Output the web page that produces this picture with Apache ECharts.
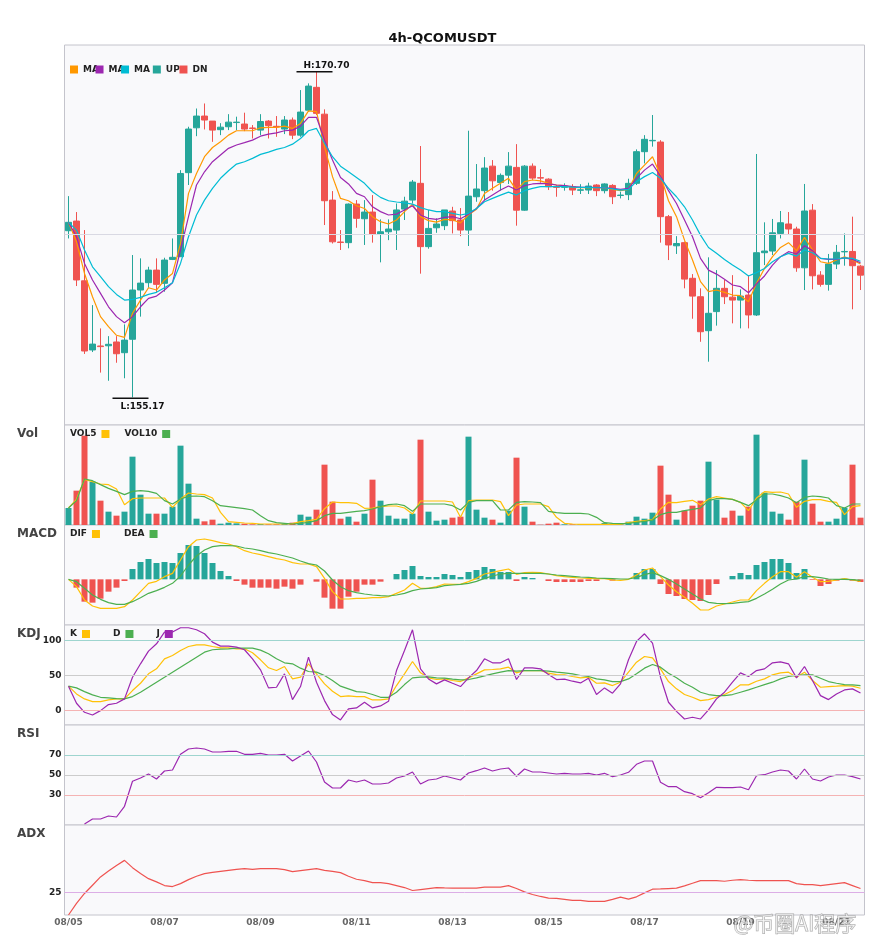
<!DOCTYPE html>
<html><head><meta charset="utf-8">
<script src="https://cdn.jsdelivr.net/npm/echarts@6/dist/echarts.min.js"></script>
<style>html,body{margin:0;padding:0;background:#fff}#c{width:885px;height:950px}</style>
</head><body><div id="c"></div>
<script>
// ---- categories: 4h candles from 08/05 00:00 ----
const categories = [];
for (let i = 0; i < 100; i++) {
  const d = 5 + Math.floor(i / 6), h = (i % 6) * 4;
  categories.push('08/' + String(d).padStart(2, '0') + ' ' + String(h).padStart(2, '0') + ':00');
}
const opens = [163.12,163.58,160.73,157.43,157.62,157.63,157.81,157.30,157.94,160.29,
160.64,161.24,160.61,161.75,161.88,165.89,168.03,168.59,168.35,167.94,
168.08,168.28,168.21,168.02,167.92,168.35,168.10,167.97,168.40,167.68,
168.87,169.96,168.68,164.58,162.58,162.55,164.39,163.69,164.01,162.96,
163.07,163.15,164.15,164.58,165.38,162.36,163.26,163.36,164.06,163.63,
163.15,164.74,165.03,166.20,165.42,165.77,166.14,164.10,166.20,165.65,
165.58,165.21,165.19,165.22,165.05,165.06,165.30,165.03,165.28,164.80,
164.84,165.38,166.89,167.41,167.35,163.79,162.40,162.55,160.85,159.97,
158.35,159.26,160.37,159.95,159.81,160.05,159.10,162.07,162.15,162.99,
163.44,163.20,161.35,164.10,161.00,160.56,161.53,162.11,162.13,161.43];
const closes = [163.52,160.77,157.38,157.71,157.59,157.70,157.25,157.90,160.29,160.62,
161.24,160.56,161.72,161.85,165.85,167.97,168.59,168.40,167.92,168.06,
168.30,168.30,167.97,168.00,168.33,168.13,168.07,168.40,167.68,168.78,
170.02,168.72,164.55,162.59,162.56,164.39,163.71,164.01,162.94,163.07,
163.20,164.11,164.53,165.44,162.36,163.23,163.44,164.11,163.60,163.15,
164.77,165.11,166.11,165.50,165.76,166.20,164.10,166.20,165.63,165.63,
165.22,165.19,165.25,165.06,165.07,165.25,165.03,165.35,164.74,164.82,
165.38,166.89,167.48,167.43,163.79,162.44,162.51,160.81,160.00,158.30,
159.18,160.37,159.97,159.81,160.00,159.10,162.07,162.15,163.02,163.50,
163.20,161.35,164.06,160.97,160.56,161.53,162.09,162.13,161.45,161.00];
const lows = [162.75,160.48,157.24,157.33,156.35,155.96,156.82,156.08,155.17,159.02,
160.40,160.18,160.21,161.72,161.88,165.30,167.63,167.95,167.36,167.68,
167.92,167.92,167.87,167.52,167.68,167.52,167.60,167.73,167.49,167.60,
168.79,168.64,163.39,162.51,162.20,162.28,163.26,162.44,162.55,161.61,
162.67,162.20,163.63,164.42,161.07,162.26,163.02,163.15,162.99,162.86,
162.39,164.50,164.58,165.03,165.03,165.35,163.36,164.07,165.54,165.41,
165.06,164.74,165.03,164.82,164.87,164.87,164.77,164.90,164.39,164.66,
164.58,165.30,166.33,167.13,162.55,161.72,162.01,160.37,158.92,157.82,
156.87,158.59,159.62,158.70,158.46,158.46,159.05,161.48,161.96,162.75,
162.96,161.16,160.29,160.32,160.45,160.26,161.29,161.45,159.37,160.29];
const highs = [164.77,164.01,163.15,159.57,158.46,158.09,158.09,158.65,161.96,161.80,
161.40,161.80,161.83,162.75,166.01,168.08,168.95,169.19,168.35,168.25,
168.68,168.56,168.75,168.16,168.68,168.40,168.59,168.59,168.52,169.83,
170.15,170.70,168.91,165.01,163.15,164.42,164.58,164.58,164.82,163.66,
163.66,164.42,164.74,165.54,167.16,164.11,163.71,164.11,164.26,164.20,
167.89,166.30,166.63,166.49,165.85,166.87,167.25,166.25,166.33,166.06,
165.62,165.30,165.38,165.34,165.34,165.41,165.34,165.38,165.34,164.98,
165.60,167.00,167.68,168.64,167.44,163.87,162.86,162.60,161.05,160.37,
161.85,161.24,160.77,161.00,160.32,161.00,166.78,163.52,163.68,164.06,
164.01,163.31,165.35,164.39,161.19,162.01,162.44,162.99,163.79,161.48];
const ma5 = [163.52,162.59,161.08,159.97,159.02,158.54,158.13,158.03,159.18,159.81,
160.40,160.29,160.77,161.08,162.50,164.90,165.85,166.65,167.09,167.36,
167.68,167.89,167.89,167.89,168.03,168.05,168.05,168.11,168.00,168.24,
168.84,168.80,167.13,165.70,164.66,164.55,164.31,164.18,163.79,163.55,
163.44,163.63,164.03,164.38,163.79,163.60,163.53,163.66,163.64,163.49,
163.88,164.14,164.90,165.14,165.38,165.62,165.06,165.46,165.54,165.50,
165.38,165.30,165.27,165.19,165.17,165.17,165.19,165.17,165.09,165.03,
165.09,165.85,166.25,166.65,165.77,164.55,163.79,162.67,161.72,160.69,
160.21,160.29,160.18,160.05,160.02,159.73,160.61,161.32,161.88,162.32,
162.55,162.17,162.80,162.20,161.64,161.56,161.72,161.88,161.72,161.53];
const ma10 = [163.52,162.83,161.56,160.77,160.13,159.49,159.02,158.73,159.02,159.49,
159.89,160.00,160.29,160.64,162.20,163.79,165.30,165.93,166.41,166.73,
167.05,167.21,167.32,167.44,167.63,167.73,167.79,167.89,167.92,168.11,
168.53,168.53,167.44,166.49,165.66,165.35,164.90,164.74,164.26,164.03,
163.87,163.91,164.11,164.31,163.87,163.71,163.66,163.76,163.79,163.69,
163.91,164.18,164.58,164.82,165.06,165.25,165.06,165.27,165.35,165.38,
165.35,165.30,165.27,165.22,165.20,165.19,165.19,165.17,165.14,165.09,
165.14,165.62,166.01,166.30,165.73,165.03,164.42,163.63,162.83,161.80,
161.24,161.05,160.80,160.53,160.45,160.16,160.58,160.96,161.48,161.88,
162.12,162.01,162.40,162.17,161.80,161.75,161.75,161.82,161.75,161.59];
const ma20 = [163.52,163.15,162.20,161.40,160.93,160.45,160.08,159.81,159.84,159.94,
160.08,160.18,160.40,160.64,161.56,162.83,163.87,164.58,165.14,165.62,
165.98,166.30,166.41,166.57,166.76,166.87,167.00,167.09,167.25,167.52,
167.89,168.00,167.29,166.65,166.20,165.93,165.66,165.38,164.98,164.71,
164.55,164.49,164.45,164.39,164.22,164.11,164.03,164.03,163.95,163.87,
163.95,164.18,164.50,164.66,164.82,164.96,164.82,165.03,165.14,165.22,
165.22,165.22,165.22,165.20,165.19,165.19,165.17,165.17,165.12,165.06,
165.09,165.46,165.70,165.90,165.62,165.14,164.74,164.26,163.63,162.91,
162.32,162.04,161.75,161.48,161.24,160.96,161.12,161.32,161.64,161.88,
162.04,161.91,162.20,162.07,161.80,161.77,161.77,161.82,161.80,161.66];
const priceRefLine = 162.93;
const volumes = [51,103,268,130,73,40,28,40,205,91,
34,34,34,55,238,124,19,11,16,4,
7,5,4,2,3,2,2,3,7,31,
25,46,181,70,19,25,10,34,136,73,
28,19,19,34,256,40,13,16,22,25,
265,46,22,16,7,43,202,55,10,1,
4,7,2,2,2,2,2,6,2,2,
10,25,19,37,178,91,16,43,58,73,
190,76,22,43,28,55,271,97,40,34,
16,70,196,64,10,10,19,52,181,22];
const vol5 = [51,77,137,130,123,121,108,61,79,81,
81,81,81,53,78,96,93,91,81,38,
10,8,6,5,3,3,3,3,4,10,
13,17,49,69,67,67,65,50,51,55,
57,57,51,33,72,72,72,72,69,23,
73,75,75,75,70,28,60,63,63,63,
55,23,5,3,2,2,2,2,2,2,
7,11,13,16,48,68,67,71,74,61,
78,85,81,77,68,43,81,100,98,99,
93,53,71,76,76,71,68,31,55,58];
const vol10 = [51,73,138,133,121,110,101,91,101,103,
101,95,73,63,78,86,87,85,73,58,
55,52,49,45,28,13,7,5,3,5,
8,13,28,35,35,38,41,43,48,55,
61,63,58,41,63,63,63,63,58,45,
68,73,73,73,45,45,68,70,69,67,
41,37,35,35,35,33,23,7,5,4,
5,8,11,15,31,38,38,43,47,51,
73,79,79,77,68,58,75,93,93,88,
81,67,83,87,85,81,58,51,63,63];
const dif = [0,-0.22,-0.62,-0.80,-0.87,-0.87,-0.87,-0.82,-0.62,-0.37,
-0.12,-0.06,0.08,0.18,0.58,0.98,1.18,1.21,1.16,1.10,
1.06,0.98,0.86,0.79,0.74,0.68,0.62,0.58,0.50,0.46,
0.46,0.38,0.03,-0.37,-0.59,-0.59,-0.57,-0.57,-0.55,-0.55,
-0.52,-0.42,-0.32,-0.12,-0.27,-0.27,-0.22,-0.14,-0.15,-0.15,
-0.07,0.03,0.16,0.21,0.26,0.31,0.15,0.20,0.21,0.20,
0.16,0.11,0.08,0.06,0.04,0.03,0.02,0.02,-0.02,-0.03,
0.00,0.13,0.28,0.34,0.08,-0.17,-0.37,-0.54,-0.72,-0.92,
-0.92,-0.80,-0.74,-0.68,-0.62,-0.62,-0.34,-0.12,0.08,0.23,
0.23,0.06,0.23,0.06,-0.07,-0.06,-0.02,0.02,-0.02,-0.06];
const dea = [0,-0.07,-0.27,-0.47,-0.60,-0.70,-0.75,-0.75,-0.67,-0.55,
-0.42,-0.34,-0.24,-0.12,0.10,0.43,0.70,0.88,0.98,1.01,
1.01,1.00,0.94,0.91,0.86,0.80,0.76,0.70,0.64,0.55,
0.47,0.43,0.25,-0.02,-0.22,-0.34,-0.40,-0.44,-0.47,-0.49,
-0.50,-0.47,-0.42,-0.34,-0.29,-0.27,-0.25,-0.19,-0.17,-0.15,
-0.12,-0.06,0.03,0.10,0.16,0.18,0.18,0.18,0.18,0.18,
0.16,0.13,0.11,0.09,0.07,0.06,0.04,0.03,0.02,0.01,
0.01,0.06,0.14,0.20,0.11,0.00,-0.14,-0.29,-0.44,-0.59,
-0.69,-0.72,-0.73,-0.72,-0.69,-0.67,-0.57,-0.44,-0.30,-0.14,
-0.02,0.01,0.08,0.08,0.05,0.01,0.00,0.00,-0.01,-0.03];
const macdHist = [0,-0.25,-0.67,-0.70,-0.58,-0.37,-0.25,-0.05,0.31,0.52,
0.61,0.49,0.52,0.49,0.79,1.03,1.00,0.79,0.49,0.25,
0.10,-0.05,-0.16,-0.25,-0.25,-0.25,-0.28,-0.22,-0.28,-0.16,
0.00,-0.07,-0.55,-0.88,-0.88,-0.52,-0.37,-0.16,-0.16,-0.07,
0.00,0.16,0.28,0.40,0.10,0.07,0.07,0.16,0.13,0.07,
0.22,0.28,0.37,0.31,0.22,0.22,-0.05,0.07,0.04,0.00,
-0.05,-0.08,-0.08,-0.08,-0.08,-0.05,-0.05,0.00,-0.04,0.00,
0.00,0.19,0.31,0.31,-0.14,-0.44,-0.50,-0.59,-0.62,-0.65,
-0.47,-0.14,0.00,0.10,0.19,0.13,0.43,0.52,0.61,0.61,
0.49,0.19,0.31,-0.02,-0.20,-0.14,-0.04,0.02,-0.04,-0.08];
const kVals = [34.8,23.8,16.7,12.9,12.9,15.2,16.7,16.7,28.6,39.0,
52.4,59.5,73.8,78.6,85.7,91.4,93.8,93.8,91.4,89.5,
89.5,88.1,88.1,82.4,72.4,61.0,57.1,62.9,45.2,47.6,
66.7,52.4,38.1,27.6,20.0,21.0,20.0,20.0,15.2,15.2,
16.7,35.7,52.4,70.0,53.8,46.7,44.3,45.2,42.9,41.4,
46.7,52.4,58.1,58.6,59.5,61.9,53.8,57.1,57.1,57.1,
53.3,51.4,51.0,48.6,46.7,47.6,39.0,39.5,35.7,40.5,
54.8,69.0,77.1,75.2,59.5,41.4,31.0,22.9,19.0,14.3,
15.7,19.0,22.9,28.6,36.7,36.7,41.9,45.2,51.0,53.8,
54.8,47.6,54.8,42.9,33.3,34.3,34.8,35.7,34.8,31.9];
const dVals = [34.8,32.4,27.1,22.4,19.0,18.1,17.1,16.7,20.0,26.2,
33.3,40.5,47.6,54.8,61.9,69.0,76.2,83.3,86.7,87.6,
88.1,89.0,89.0,89.0,86.2,81.0,73.8,68.1,66.7,60.5,
55.7,54.8,50.0,42.9,34.8,31.0,27.1,26.2,22.9,19.0,
19.0,26.2,37.1,46.7,47.6,48.1,46.7,46.2,44.8,43.8,
44.3,46.7,49.5,52.4,54.8,57.1,56.2,57.1,57.1,57.1,
56.2,54.8,53.8,52.4,50.0,48.6,45.2,43.8,41.4,41.4,
45.2,52.4,60.5,65.7,61.9,53.3,46.7,39.0,33.3,26.2,
22.9,21.4,21.4,22.9,26.2,29.5,33.3,37.1,40.5,45.2,
48.6,50.0,51.0,51.0,46.2,41.4,39.0,37.1,36.7,35.7];
const jVals = [34.8,10.5,-2.4,-6.2,0.0,8.6,10.5,16.7,47.6,66.7,
84.8,95.2,111.9,111.9,118.1,118.1,115.2,109.5,97.6,91.9,
91.9,90.5,86.7,73.8,58.1,32.4,33.3,52.4,15.7,34.3,
76.2,40.5,14.3,-5.7,-13.3,2.4,3.8,11.9,3.8,6.7,
13.3,57.1,85.7,115.2,59.5,45.2,38.1,43.8,39.0,34.3,
46.7,57.1,73.8,68.1,68.1,73.8,44.3,61.0,61.0,59.5,
51.4,44.3,44.8,41.9,39.5,46.2,22.9,32.4,24.8,38.1,
72.4,98.6,109.5,96.2,47.6,11.9,-1.0,-11.9,-9.5,-11.9,
1.0,16.7,26.2,40.5,53.8,48.6,57.1,59.5,68.1,69.5,
66.7,46.7,62.9,42.9,21.4,15.7,23.8,29.5,31.0,25.2];
const rsiVals = [null,null,1,6,6,9,8,18.7,43.7,47,
51,46,54,55,70.7,76,77,76,73,73,
73.7,73.7,70.7,70.7,71.7,70,70,70.7,64,69,
74,63,43,37,37,45,43,45,41,41,
42,47,49,53,41,45,46,49,47,45,
52,54.3,57,54,56,57,48.7,56,53,53,
52,51,51.7,51,51,51.7,50,51.7,48.3,50,
52.7,60.7,64,64,42.7,38.3,38.3,33.3,31.3,27.3,
32.3,37.7,37.3,37.3,38,35.3,49.3,50.3,53,55,
54,46,56,46,44,48,50,50,48.3,46];
const adxVals = [0,12.9,23.9,33.1,42.3,48.9,55.1,60.7,52.6,46.0,
40.4,36.8,32.7,31.6,34.9,39.3,43.0,46.0,47.4,48.5,
49.6,50.7,51.5,50.7,51.5,51.5,51.5,50.4,48.2,49.3,
50.4,51.5,49.6,48.5,47.1,43.0,39.7,38.2,36.0,36.0,
34.9,32.7,30.5,27.2,28.3,29.4,30.5,30.1,29.8,29.8,
29.8,29.8,30.9,30.9,30.9,32.7,29.4,25.7,22.8,20.6,
18.8,18.4,17.3,16.2,16.2,15.1,15.1,15.1,17.3,19.9,
17.6,20.2,24.6,28.7,29.0,29.4,29.8,32.4,35.3,38.2,
38.2,38.2,37.5,38.6,39.3,38.6,38.2,38.2,38.2,38.2,
38.2,34.9,33.8,33.8,32.7,33.8,34.9,36.0,32.7,29.4];
const kdjLevels = [100, 50, 0];
const rsiLevels = [70, 50, 30];
const adxLevels = [25];

// ---- styles ----
const UP = '#26a69a', DN = '#ef5350';
const C_MA5 = '#ff9800', C_MA10 = '#9c27b0', C_MA20 = '#00bcd4';
const C_Y = '#ffc107', C_G = '#4caf50', C_P = '#9c27b0';
const HI_LINE = '#9ed5cf', MID_LINE = '#cccccc', LO_LINE = '#f5b3b3';
const FONT = 'DejaVu Sans';

const candleData = opens.map((o, i) => [o, closes[i], lows[i], highs[i]]);
let hiIdx = 0, loIdx = 0;
highs.forEach((h, i) => { if (h > highs[hiIdx]) hiIdx = i; });
lows.forEach((l, i) => { if (l < lows[loIdx]) loIdx = i; });

const gridDefs = [
  {top: 45, height: 380}, {top: 425, height: 100}, {top: 525, height: 100},
  {top: 625, height: 100}, {top: 725, height: 100}, {top: 825, height: 90}
];
const yRanges = [[153.85, 171.98], [0, 300], [-1.37, 1.63], [-20.5, 122], [0, 100], [0, 100]];

const lineS = (name, data, color, g, extra) => Object.assign({
  name, type: 'line', data, xAxisIndex: g, yAxisIndex: g, symbol: 'none',
  lineStyle: {color, width: 1.2}, itemStyle: {color}, silent: true
}, extra || {});

const levelLines = (levels, colors) => ({
  silent: true, symbol: ['none', 'none'], animation: false, precision: 0,
  label: {position: 'start', distance: 3, color: '#222', fontSize: 9, fontWeight: 'bold', fontFamily: FONT, formatter: '{c}'},
  data: levels.map((v, i) => ({yAxis: v, lineStyle: {color: colors[i], type: 'solid', width: 1}}))
});

const legText = {fontSize: 9, fontWeight: 'bold', color: '#222', fontFamily: FONT};
const legBase = {icon: 'rect', itemWidth: 8, itemHeight: 8, left: 70, padding: 0, selectedMode: false, textStyle: legText};
const mainLegendLabel = {MA5: 'MA', MA10: 'MA', MA20: 'MA  ', UP: 'UP ', DN: 'DN'};

const option = {
  animation: false,
  backgroundColor: '#ffffff',
  textStyle: {fontFamily: FONT},
  title: {text: '4h-QCOMUSDT', left: 'center', top: 27, textStyle: {fontSize: 13, fontWeight: 'bold', color: '#111', fontFamily: FONT}},
  legend: [
    Object.assign({}, legBase, {top: 65, itemGap: -3.4,
      formatter: n => mainLegendLabel[n],
      data: ['MA5', 'MA10', 'MA20', 'UP', 'DN']}),
    Object.assign({}, legBase, {top: 429.5, align: 'right', itemGap: 15, data: ['VOL5', 'VOL10']}),
    Object.assign({}, legBase, {top: 529.5, align: 'right', itemGap: 24, textStyle: Object.assign({width: 22}, legText), data: ['DIF', 'DEA']}),
    Object.assign({}, legBase, {top: 629.5, align: 'right', itemGap: 23, textStyle: Object.assign({width: 12}, legText), data: ['K', 'D', 'J']})
  ],
  grid: gridDefs.map(g => ({left: 64.5, width: 800, top: g.top, height: g.height, show: true,
    backgroundColor: '#f9f9fb', borderColor: '#c4c4cc', borderWidth: 1})),
  xAxis: gridDefs.map((g, k) => ({
    type: 'category', gridIndex: k, data: categories, boundaryGap: true,
    axisLine: {show: false}, axisTick: {show: false}, splitLine: {show: false},
    axisLabel: {show: k === 5, interval: i => i % 12 === 0, formatter: v => v.slice(0, 5),
      color: '#666', fontSize: 9, fontWeight: 'bold', margin: 3}
  })),
  yAxis: yRanges.map((r, k) => ({type: 'value', gridIndex: k, min: r[0], max: r[1], show: false})),
  series: [
    {
      name: 'QCOMUSDT', type: 'candlestick', data: candleData, xAxisIndex: 0, yAxisIndex: 0, barWidth: 6,
      itemStyle: {color: UP, color0: DN, borderColor: UP, borderColor0: DN, borderWidth: 1},
      markLine: {silent: true, symbol: ['none', 'none'], label: {show: false},
        data: [{yAxis: priceRefLine, lineStyle: {color: '#d9d9e3', type: 'solid', width: 1}}]},
      markPoint: {
        symbol: 'rect', symbolSize: [36, 1.5], itemStyle: {color: '#111'}, silent: true,
        label: {color: '#111', fontSize: 9, fontWeight: 'bold', fontFamily: FONT, distance: 1, offset: [12, 0]},
        data: [
          {coord: [hiIdx, highs[hiIdx]], symbolOffset: [-2, 0], label: {position: 'top', formatter: 'H:' + highs[hiIdx].toFixed(2)}},
          {coord: [loIdx, lows[loIdx]], symbolOffset: [-2, 1], label: {position: 'bottom', offset: [12, 2], formatter: 'L:' + lows[loIdx].toFixed(2)}}
        ]
      }
    },
    lineS('MA5', ma5, C_MA5, 0),
    lineS('MA10', ma10, C_MA10, 0),
    lineS('MA20', ma20, C_MA20, 0),
    {name: 'UP', type: 'bar', data: [], xAxisIndex: 0, yAxisIndex: 0, itemStyle: {color: UP}},
    {name: 'DN', type: 'bar', data: [], xAxisIndex: 0, yAxisIndex: 0, itemStyle: {color: DN}},
    {name: 'Volume', type: 'bar', xAxisIndex: 1, yAxisIndex: 1, barWidth: 6, silent: true,
      data: volumes.map((v, i) => ({value: v, itemStyle: {color: closes[i] >= opens[i] ? UP : DN}}))},
    lineS('VOL5', vol5, C_Y, 1),
    lineS('VOL10', vol10, C_G, 1),
    {name: 'MACD', type: 'bar', xAxisIndex: 2, yAxisIndex: 2, barWidth: 6, silent: true,
      data: macdHist.map(v => ({value: v, itemStyle: {color: v >= 0 ? UP : DN}}))},
    lineS('DIF', dif, C_Y, 2),
    lineS('DEA', dea, C_G, 2),
    lineS('K', kVals, C_Y, 3, {markLine: levelLines(kdjLevels, [HI_LINE, MID_LINE, LO_LINE])}),
    lineS('D', dVals, C_G, 3),
    lineS('J', jVals, C_P, 3),
    lineS('RSI', rsiVals, C_P, 4, {markLine: levelLines(rsiLevels, [HI_LINE, MID_LINE, LO_LINE])}),
    lineS('ADX', adxVals, '#ef5350', 5, {markLine: levelLines(adxLevels, ['#dcaee6'])})
  ],
  graphic: [
    {type: 'text', left: 17, top: 428, style: {text: 'Vol', font: 'bold 12px "DejaVu Sans"', fill: '#444'}},
    {type: 'text', left: 17, top: 528, style: {text: 'MACD', font: 'bold 12px "DejaVu Sans"', fill: '#444'}},
    {type: 'text', left: 17, top: 628, style: {text: 'KDJ', font: 'bold 12px "DejaVu Sans"', fill: '#444'}},
    {type: 'text', left: 17, top: 728, style: {text: 'RSI', font: 'bold 12px "DejaVu Sans"', fill: '#444'}},
    {type: 'text', left: 17, top: 828, style: {text: 'ADX', font: 'bold 12px "DejaVu Sans"', fill: '#444'}},
    {type: 'text', left: 733, top: 912, z: 100, silent: true,
      style: {text: '@币圈AI程序', font: '21px "Noto Sans CJK SC"', fill: 'rgba(255,255,255,0.55)', stroke: 'rgba(140,140,140,0.75)', lineWidth: 1}}
  ]
};
const chart = echarts.init(document.getElementById('c'), null, {renderer: 'canvas'});
chart.setOption(option);
</script></body></html>
